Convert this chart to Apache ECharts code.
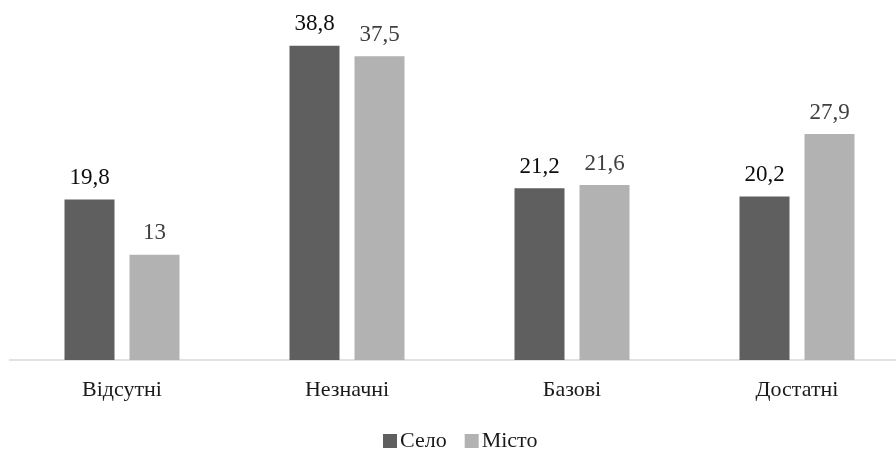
<!DOCTYPE html>
<html><head><meta charset="utf-8">
<script src="https://cdn.jsdelivr.net/npm/echarts@6/dist/echarts.min.js"></script>
<style>html,body{margin:0;padding:0;background:#fff}#c{width:896px;height:451px}</style>
</head><body><div id="c"></div>
<script>
const categories = ['Відсутні', 'Незначні', 'Базові', 'Достатні'];
const selo = [19.8, 38.8, 21.2, 20.2];
const misto = [13, 37.5, 21.6, 27.9];
const fmt = p => String(p.value).replace('.', ',');
const font = 'Liberation Serif';
const chart = echarts.init(document.getElementById('c'));
chart.setOption({
  animation: false,
  textStyle: { fontFamily: font },
  grid: { left: 9.5, width: 900, top: 36, bottom: 91, outerBoundsMode: 'none', containLabel: false },
  legend: {
    top: 430, left: 383, itemWidth: 14, itemHeight: 14, itemGap: 18, padding: 0,
    icon: 'rect',
    textStyle: { fontFamily: font, fontSize: 22, color: '#1a1a1a', padding: [0, 0, 0, -2] },
    data: ['Село', 'Місто']
  },
  xAxis: {
    type: 'category', data: categories,
    axisLine: { lineStyle: { color: '#d9d9d9', width: 1.5 } },
    axisTick: { show: false },
    axisLabel: { show: false }
  },
  yAxis: { type: 'value', min: 0, max: 40, show: false, splitLine: { show: false } },
  series: [
    { name: 'Село', type: 'bar', data: selo, barWidth: 50, barGap: '30%',
      itemStyle: { color: '#5f5f5f' },
      label: { show: true, position: 'top', distance: 10, formatter: fmt, fontFamily: font, fontSize: 23, color: '#0d0d0d' } },
    { name: 'Місто', type: 'bar', data: misto, barWidth: 50,
      itemStyle: { color: '#b2b2b2' },
      label: { show: true, position: 'top', distance: 10, formatter: fmt, fontFamily: font, fontSize: 23, color: '#404040' } }
  ]
});
const catLabels = categories.map((c, i) => {
  const p = chart.convertToPixel({ gridIndex: 0 }, [i, 0]);
  return { type: 'text', x: p[0], y: p[1] + 19,
    style: { text: c, fontFamily: font, fontSize: 22, fill: '#1a1a1a', align: 'center', verticalAlign: 'top' } };
});
chart.setOption({ graphic: catLabels });
</script></body></html>
